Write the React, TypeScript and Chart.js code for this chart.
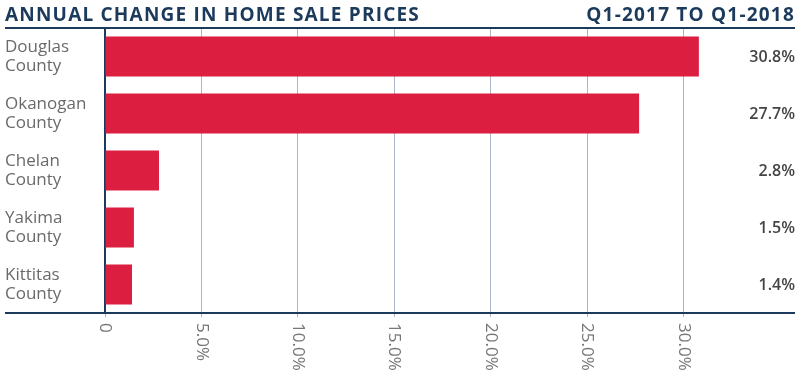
import React, { useEffect, useRef } from "react";
import { Chart, registerables } from "chart.js";
Chart.register(...registerables);

const titleText = "ANNUAL CHANGE IN HOME SALE PRICES";
const periodText = "Q1-2017 TO Q1-2018";
const categories = [
  ["Douglas", "County"],
  ["Okanogan", "County"],
  ["Chelan", "County"],
  ["Yakima", "County"],
  ["Kittitas", "County"],
];
const values = [30.8, 27.7, 2.8, 1.5, 1.4];
const valueLabels = ["30.8%", "27.7%", "2.8%", "1.5%", "1.4%"];
const tickValues = [0, 5, 10, 15, 20, 25, 30];
const tickLabels = ["0", "5.0%", "10.0%", "15.0%", "20.0%", "25.0%", "30.0%"];

const NAVY = "#1b3a5c";
const BAR = "#dc1f40";
const GRID = "#a9b6c4";
const FONT = "'Open Sans', Lato, sans-serif";

export default function App() {
  const ref = useRef<HTMLCanvasElement | null>(null);
  useEffect(() => {
    const canvas = ref.current;
    if (!canvas) return;
    const overlay = {
      id: "overlay",
      afterDraw(chart: any) {
        const ctx = chart.ctx;
        const { chartArea } = chart;
        const xs = chart.scales.x;
        const ys = chart.scales.y;
        ctx.save();
        // bottom axis line
        ctx.strokeStyle = NAVY;
        ctx.lineWidth = 2;
        ctx.beginPath();
        ctx.moveTo(5, chartArea.bottom);
        ctx.lineTo(795, chartArea.bottom);
        ctx.stroke();
        // value labels
        ctx.fillStyle = "#444";
        ctx.font = `600 16px ${FONT}`;
        ctx.textAlign = "right";
        ctx.textBaseline = "middle";
        values.forEach((v, i) => {
          ctx.fillText(valueLabels[i], 795, ys.getPixelForValue(i) + 1);
        });
        // rotated tick labels
        ctx.fillStyle = "#777";
        ctx.font = `17px ${FONT}`;
        ctx.textAlign = "left";
        ctx.textBaseline = "middle";
        tickValues.forEach((v, i) => {
          const x = xs.getPixelForValue(v);
          ctx.save();
          ctx.translate(x, chartArea.bottom + 10);
          ctx.rotate(Math.PI / 2);
          ctx.fillText(tickLabels[i], 0, 0);
          ctx.restore();
        });
        ctx.restore();
      },
    };
    const chart = new Chart(canvas, {
      type: "bar",
      data: {
        labels: categories as any,
        datasets: [
          {
            data: values,
            backgroundColor: BAR,
            categoryPercentage: 0.7,
            barPercentage: 1,
          },
        ],
      },
      options: {
        indexAxis: "y",
        responsive: false,
        animation: false,
        layout: { padding: { top: 28, right: 78, left: 5, bottom: 0 } },
        plugins: { legend: { display: false }, tooltip: { enabled: false } },
        scales: {
          x: {
            min: 0,
            max: 32,
            ticks: { display: false },
            afterBuildTicks: (s: any) => {
              s.ticks = tickValues.map((v) => ({ value: v }));
            },
            afterFit: (s: any) => {
              s.height = 73;
            },
            grid: { color: GRID, lineWidth: 1, tickLength: 4 },
            border: { display: false },
          },
          y: {
            ticks: {
              font: { family: FONT, size: 17, lineHeight: 1.15 },
              color: "#6a6a6a",
              crossAlign: "far",
              padding: 0,
            },
            afterFit: (s: any) => {
              s.width = 100;
            },
            grid: { display: false },
            border: { color: NAVY, width: 2 },
          },
        },
      },
      plugins: [overlay],
    });
    return () => chart.destroy();
  }, []);

  return (
    <div style={{ position: "fixed", left: 0, top: 0, width: 800, height: 386, background: "#fff" }}>
      <div
        style={{
          position: "absolute",
          left: 5,
          top: 0,
          width: 790,
          height: 27,
          borderBottom: `2px solid ${NAVY}`,
          display: "flex",
          justifyContent: "space-between",
          alignItems: "flex-end",
          fontFamily: "'Open Sans', sans-serif",
          fontWeight: 700,
          fontSize: 19,
          letterSpacing: 1.2,
          color: NAVY,
          lineHeight: "25px",
        }}
      >
        <span>{titleText}</span>
        <span>{periodText}</span>
      </div>
      <canvas ref={ref} width={800} height={386} style={{ display: "block" }} />
    </div>
  );
}
